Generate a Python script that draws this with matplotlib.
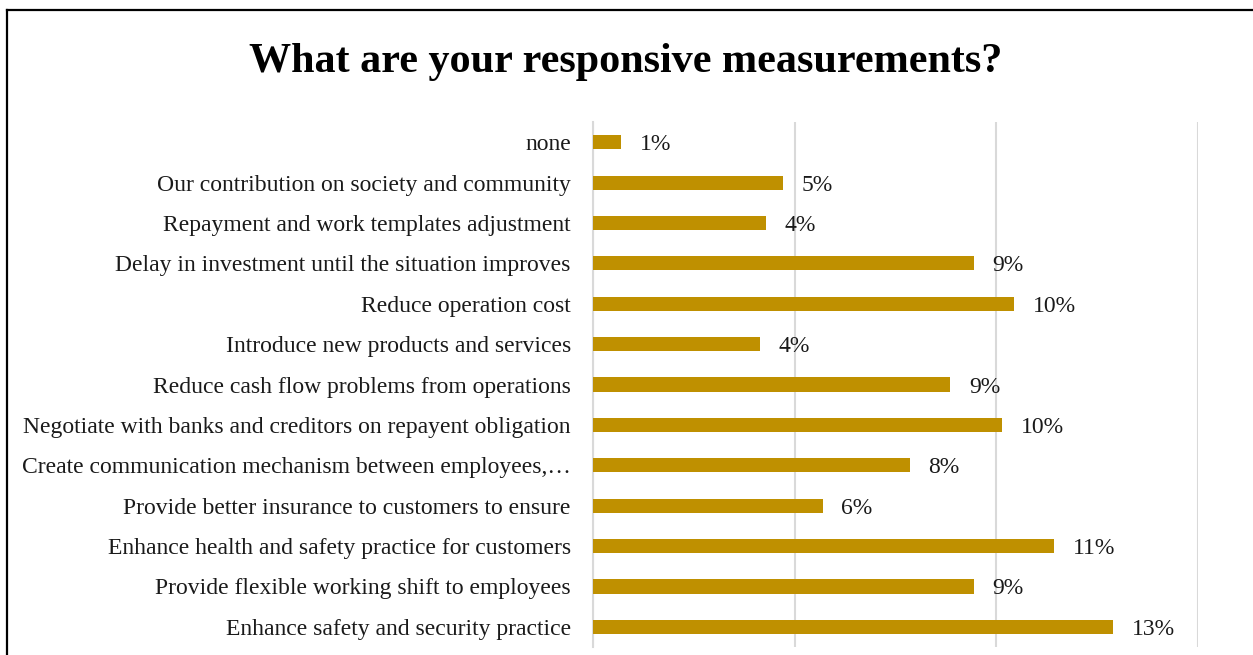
import matplotlib.pyplot as plt
from matplotlib.lines import Line2D

plt.rcParams['font.family'] = ['Liberation Serif', 'DejaVu Serif']

# survey answers, top row first
measures = [
    "none",
    "Our contribution on society and community",
    "Repayment and work templates adjustment",
    "Delay in investment until the situation improves",
    "Reduce operation cost",
    "Introduce new products and services",
    "Reduce cash flow problems from operations",
    "Negotiate with banks and creditors on repayent obligation",
    "Create communication mechanism between employees,\u2026",
    "Provide better insurance to customers to ensure",
    "Enhance health and safety practice for customers",
    "Provide flexible working shift to employees",
    "Enhance safety and security practice",
]
shares = [0.0069, 0.0470, 0.0428, 0.0945, 0.1045, 0.0413, 0.0886,
          0.1015, 0.0786, 0.0570, 0.1144, 0.0945, 0.1289]

bar_color = '#BF9000'
grid_color = '#D9D9D9'

fig = plt.figure(figsize=(12.53, 6.55), dpi=100)
ax = fig.add_axes([0.4733, 0.0122, 0.4828, 0.8015])

ypos = list(range(len(measures)))[::-1]
ax.barh(ypos, shares, height=0.35, color=bar_color, zorder=3)

for y, v in zip(ypos, shares):
    ax.text(v + 0.0046, y, f"{v:.0%}", va='center_baseline', ha='left',
            fontsize=17, color='#1a1a1a')

ax.set_xlim(0, 0.15)
ax.set_ylim(-0.5, len(measures) - 0.5)
ax.set_xticks([0, 0.05, 0.10, 0.15])
ax.set_xticklabels([])
ax.set_yticks(ypos)
ax.set_yticklabels(measures, fontsize=17, color='#1a1a1a')
ax.tick_params(length=0, pad=16)
ax.grid(axis='x', color=grid_color, linewidth=1.5, zorder=0)
for side in ['top', 'right', 'bottom']:
    ax.spines[side].set_visible(False)
ax.spines['left'].set_color(grid_color)
ax.spines['left'].set_linewidth(1.5)

fig.text(0.4996, 0.905, "What are your responsive measurements?",
         ha='center', va='center', fontsize=30.3, fontweight='bold')

# frame lines along the left and top edges
fig.add_artist(Line2D([0.0056, 0.0056], [0, 0.985], color='black',
                      linewidth=1.6, transform=fig.transFigure))
fig.add_artist(Line2D([0.0056, 1.0], [0.985, 0.985], color='black',
                      linewidth=1.6, transform=fig.transFigure))

fig.savefig("out.png", dpi=100)
